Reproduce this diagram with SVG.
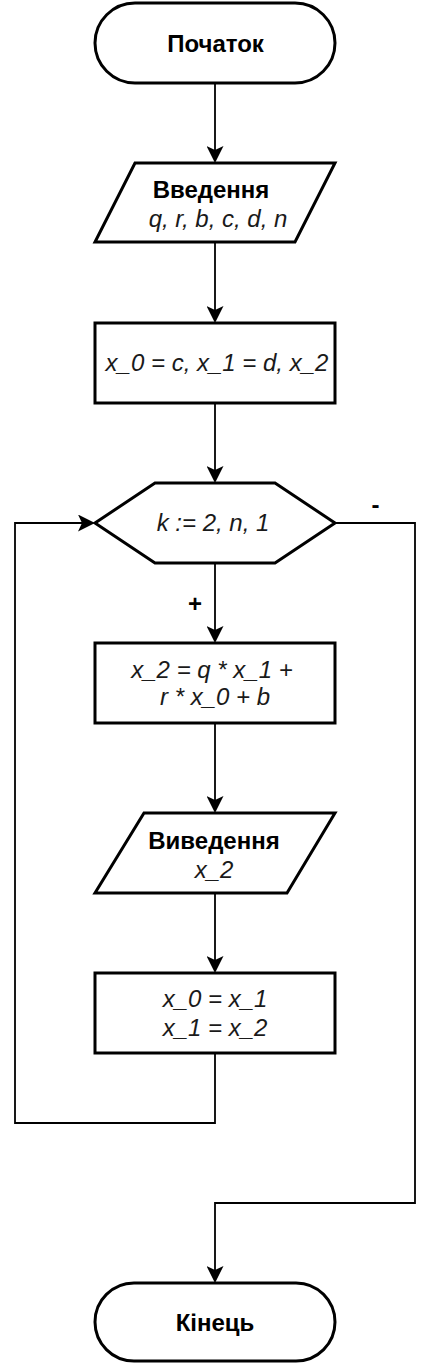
<svg xmlns="http://www.w3.org/2000/svg" width="432" height="1364" viewBox="0 0 432 1364">
<style>
.shape{fill:#fff;stroke:#000;stroke-width:3}
.conn{fill:none;stroke:#000;stroke-width:1.8}
text{font-family:"Liberation Sans",Arial,sans-serif;font-size:24px;fill:#000}
.b{font-weight:bold}
.i{font-style:italic;fill:#1a1a1a}
.m{text-anchor:middle}
</style>
<defs>
<marker id="arr" viewBox="0 0 17 17" refX="7" refY="8.5" markerWidth="17" markerHeight="17" markerUnits="userSpaceOnUse" orient="auto">
<path d="M17 8.5 L0 0 L4 8.5 L0 17 Z" fill="#000"/>
</marker>
</defs>
<rect width="432" height="1364" fill="#fff"/>
<g id="connectors">
<path class="conn" d="M215 83 V153" marker-end="url(#arr)"/>
<path class="conn" d="M215 242 V313" marker-end="url(#arr)"/>
<path class="conn" d="M215 403 V473" marker-end="url(#arr)"/>
<path class="conn" d="M215 563 V633" marker-end="url(#arr)"/>
<path class="conn" d="M215 723 V803" marker-end="url(#arr)"/>
<path class="conn" d="M215 893 V963" marker-end="url(#arr)"/>
<path class="conn" d="M215 1053 V1123 H15 V523 H85" marker-end="url(#arr)"/>
<path class="conn" d="M335 523 H415 V1203 H215 V1273" marker-end="url(#arr)"/>
<text class="b m" x="195" y="612">+</text>
<text class="b m" x="375.5" y="513">-</text>
</g>
<g id="start">
<rect class="shape" x="95" y="3" width="240" height="80" rx="40" ry="40"/>
<text class="b m" x="215.5" y="52">Початок</text>
</g>
<g id="input">
<polygon class="shape" points="135,163 335,163 295,242 95,242"/>
<text class="b m" x="211" y="198">Введення</text>
<text class="i m" x="218" y="227">q, r, b, c, d, n</text>
</g>
<g id="init">
<rect class="shape" x="95" y="323" width="240" height="80"/>
<text class="i m" x="217" y="371">x_0 = c, x_1 = d, x_2</text>
</g>
<g id="loop">
<polygon class="shape" points="95,523 155,483 275,483 335,523 275,563 155,563"/>
<text class="i m" x="213" y="531">k := 2, n, 1</text>
</g>
<g id="calc">
<rect class="shape" x="95" y="643" width="240" height="80"/>
<text class="i m" x="212" y="678">x_2 = q * x_1 +</text>
<text class="i m" x="215" y="705">r * x_0 + b</text>
</g>
<g id="output">
<polygon class="shape" points="144,813 335,813 287,893 95,893"/>
<text class="b m" x="214" y="849">Виведення</text>
<text class="i m" x="214" y="878">x_2</text>
</g>
<g id="shift">
<rect class="shape" x="95" y="973" width="240" height="80"/>
<text class="i m" x="215" y="1007">x_0 = x_1</text>
<text class="i m" x="215" y="1036">x_1 = x_2</text>
</g>
<g id="end">
<rect class="shape" x="95" y="1283" width="240" height="78" rx="39" ry="39"/>
<text class="b m" x="215" y="1331">Кінець</text>
</g>
</svg>
